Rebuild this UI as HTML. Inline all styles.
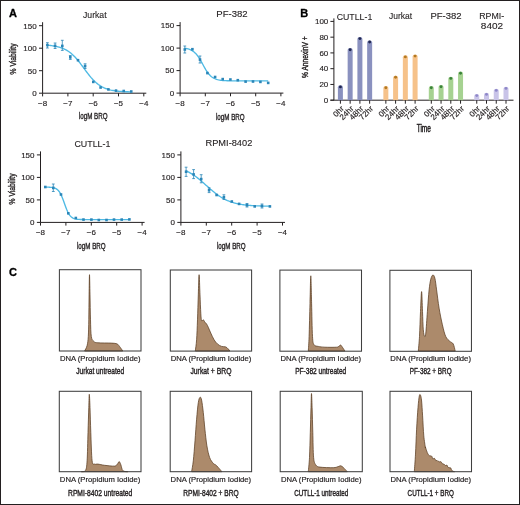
<!DOCTYPE html>
<html><head><meta charset="utf-8"><style>
html,body{margin:0;padding:0;background:#fff;width:520px;height:505px;overflow:hidden}
svg{display:block;font-family:"Liberation Sans", sans-serif;filter:blur(0.3px)}
</style></head><body>
<svg width="520" height="505" viewBox="0 0 520 505">
<rect width="520" height="505" fill="#fff"/>
<rect x="0.5" y="0.5" width="519" height="504" fill="none" stroke="#231f20" stroke-width="1"/>
<text x="9.00" y="16.80" font-size="11" text-anchor="start" font-weight="bold" fill="#000"  stroke="#000" stroke-width="0.3">A</text>
<text x="300.30" y="16.80" font-size="11" text-anchor="start" font-weight="bold" fill="#000"  stroke="#000" stroke-width="0.3">B</text>
<text x="9.00" y="276.00" font-size="11" text-anchor="start" font-weight="bold" fill="#000"  stroke="#000" stroke-width="0.3">C</text>
<path d="M42.60 22.20V93.20H146.30" fill="none" stroke="#231f20" stroke-width="1"/>
<path d="M39.00 93.20H42.60" stroke="#231f20" stroke-width="1"/>
<text x="36.60" y="96.00" font-size="8" text-anchor="end" font-weight="normal" fill="#231f20"  stroke="#231f20" stroke-width="0.15">0</text>
<path d="M39.00 70.70H42.60" stroke="#231f20" stroke-width="1"/>
<text x="36.60" y="73.50" font-size="8" text-anchor="end" font-weight="normal" fill="#231f20"  stroke="#231f20" stroke-width="0.15">50</text>
<path d="M39.00 48.20H42.60" stroke="#231f20" stroke-width="1"/>
<text x="36.60" y="51.00" font-size="8" text-anchor="end" font-weight="normal" fill="#231f20"  stroke="#231f20" stroke-width="0.15">100</text>
<path d="M39.00 25.70H42.60" stroke="#231f20" stroke-width="1"/>
<text x="36.60" y="28.50" font-size="8" text-anchor="end" font-weight="normal" fill="#231f20"  stroke="#231f20" stroke-width="0.15">150</text>
<path d="M42.60 93.20V96.40" stroke="#231f20" stroke-width="1"/>
<text x="42.60" y="106.20" font-size="8" text-anchor="middle" font-weight="normal" fill="#231f20"  stroke="#231f20" stroke-width="0.15">&#8722;8</text>
<path d="M67.90 93.20V96.40" stroke="#231f20" stroke-width="1"/>
<text x="67.90" y="106.20" font-size="8" text-anchor="middle" font-weight="normal" fill="#231f20"  stroke="#231f20" stroke-width="0.15">&#8722;7</text>
<path d="M93.20 93.20V96.40" stroke="#231f20" stroke-width="1"/>
<text x="93.20" y="106.20" font-size="8" text-anchor="middle" font-weight="normal" fill="#231f20"  stroke="#231f20" stroke-width="0.15">&#8722;6</text>
<path d="M118.50 93.20V96.40" stroke="#231f20" stroke-width="1"/>
<text x="118.50" y="106.20" font-size="8" text-anchor="middle" font-weight="normal" fill="#231f20"  stroke="#231f20" stroke-width="0.15">&#8722;5</text>
<path d="M143.80 93.20V96.40" stroke="#231f20" stroke-width="1"/>
<text x="143.80" y="106.20" font-size="8" text-anchor="middle" font-weight="normal" fill="#231f20"  stroke="#231f20" stroke-width="0.15">&#8722;4</text>
<text x="83.00" y="17.70" font-size="9.8" text-anchor="start" font-weight="normal" fill="#231f20" textLength="23.6" lengthAdjust="spacingAndGlyphs"  stroke="#231f20" stroke-width="0.12">Jurkat</text>
<text x="78.85" y="119.30" font-size="8.6" text-anchor="start" font-weight="normal" fill="#231f20" textLength="28.7" lengthAdjust="spacingAndGlyphs"  stroke="#231f20" stroke-width="0.35">logM BRQ</text>
<text transform="translate(15.50,58.90) rotate(-90)" x="0" y="0" font-size="8.2" stroke="#231f20" stroke-width="0.35" text-anchor="middle" fill="#231f20" textLength="31" lengthAdjust="spacingAndGlyphs">% Viability</text>
<path d="M47.40 45.22 L48.46 45.31 L49.52 45.41 L50.58 45.53 L51.65 45.65 L52.71 45.80 L53.77 45.96 L54.83 46.14 L55.89 46.34 L56.95 46.57 L58.01 46.82 L59.08 47.10 L60.14 47.42 L61.20 47.77 L62.26 48.16 L63.32 48.59 L64.38 49.07 L65.44 49.60 L66.51 50.18 L67.57 50.81 L68.63 51.51 L69.69 52.27 L70.75 53.09 L71.81 53.98 L72.87 54.94 L73.93 55.97 L75.00 57.06 L76.06 58.21 L77.12 59.43 L78.18 60.71 L79.24 62.03 L80.30 63.40 L81.36 64.80 L82.43 66.23 L83.49 67.68 L84.55 69.12 L85.61 70.57 L86.67 71.99 L87.73 73.39 L88.79 74.75 L89.86 76.07 L90.92 77.34 L91.98 78.55 L93.04 79.70 L94.10 80.78 L95.16 81.80 L96.22 82.75 L97.29 83.63 L98.35 84.44 L99.41 85.19 L100.47 85.88 L101.53 86.51 L102.59 87.08 L103.65 87.60 L104.72 88.07 L105.78 88.50 L106.84 88.88 L107.90 89.23 L108.96 89.54 L110.02 89.82 L111.08 90.07 L112.14 90.29 L113.21 90.49 L114.27 90.67 L115.33 90.83 L116.39 90.97 L117.45 91.10 L118.51 91.21 L119.57 91.31 L120.64 91.40 L121.70 91.47 L122.76 91.54 L123.82 91.61 L124.88 91.66 L125.94 91.71 L127.00 91.75 L128.07 91.79 L129.13 91.83 L130.19 91.86 L131.25 91.88" fill="none" stroke="#4fbae4" stroke-width="1.35"/>
<rect x="46.10" y="43.80" width="2.6" height="2.6" fill="#2b86b8"/>
<rect x="53.80" y="44.60" width="2.6" height="2.6" fill="#2b86b8"/>
<rect x="61.00" y="44.60" width="2.6" height="2.6" fill="#2b86b8"/>
<rect x="69.00" y="56.00" width="2.6" height="2.6" fill="#2b86b8"/>
<rect x="76.70" y="58.90" width="2.6" height="2.6" fill="#2b86b8"/>
<rect x="83.80" y="64.80" width="2.6" height="2.6" fill="#2b86b8"/>
<rect x="92.00" y="80.60" width="2.6" height="2.6" fill="#2b86b8"/>
<rect x="99.30" y="86.20" width="2.6" height="2.6" fill="#2b86b8"/>
<rect x="107.10" y="88.10" width="2.6" height="2.6" fill="#2b86b8"/>
<rect x="114.70" y="89.30" width="2.6" height="2.6" fill="#2b86b8"/>
<rect x="122.45" y="89.70" width="2.6" height="2.6" fill="#2b86b8"/>
<rect x="129.95" y="90.20" width="2.6" height="2.6" fill="#2b86b8"/>
<path d="M47.40 42.70V48.00M46.00 42.70H48.80M46.00 48.00H48.80" stroke="#2b86b8" stroke-width="0.8" fill="none"/>
<path d="M55.10 43.00V48.50M53.70 43.00H56.50M53.70 48.50H56.50" stroke="#2b86b8" stroke-width="0.8" fill="none"/>
<path d="M62.30 40.30V50.40M60.90 40.30H63.70M60.90 50.40H63.70" stroke="#2b86b8" stroke-width="0.8" fill="none"/>
<path d="M70.30 55.50V59.40M68.90 55.50H71.70M68.90 59.40H71.70" stroke="#2b86b8" stroke-width="0.8" fill="none"/>
<path d="M85.10 63.80V68.50M83.70 63.80H86.50M83.70 68.50H86.50" stroke="#2b86b8" stroke-width="0.8" fill="none"/>
<path d="M180.10 22.10V93.10H283.40" fill="none" stroke="#231f20" stroke-width="1"/>
<path d="M176.50 93.10H180.10" stroke="#231f20" stroke-width="1"/>
<text x="174.10" y="95.90" font-size="8" text-anchor="end" font-weight="normal" fill="#231f20"  stroke="#231f20" stroke-width="0.15">0</text>
<path d="M176.50 70.60H180.10" stroke="#231f20" stroke-width="1"/>
<text x="174.10" y="73.40" font-size="8" text-anchor="end" font-weight="normal" fill="#231f20"  stroke="#231f20" stroke-width="0.15">50</text>
<path d="M176.50 48.10H180.10" stroke="#231f20" stroke-width="1"/>
<text x="174.10" y="50.90" font-size="8" text-anchor="end" font-weight="normal" fill="#231f20"  stroke="#231f20" stroke-width="0.15">100</text>
<path d="M176.50 25.60H180.10" stroke="#231f20" stroke-width="1"/>
<text x="174.10" y="28.40" font-size="8" text-anchor="end" font-weight="normal" fill="#231f20"  stroke="#231f20" stroke-width="0.15">150</text>
<path d="M180.10 93.10V96.30" stroke="#231f20" stroke-width="1"/>
<text x="180.10" y="106.10" font-size="8" text-anchor="middle" font-weight="normal" fill="#231f20"  stroke="#231f20" stroke-width="0.15">&#8722;8</text>
<path d="M205.30 93.10V96.30" stroke="#231f20" stroke-width="1"/>
<text x="205.30" y="106.10" font-size="8" text-anchor="middle" font-weight="normal" fill="#231f20"  stroke="#231f20" stroke-width="0.15">&#8722;7</text>
<path d="M230.50 93.10V96.30" stroke="#231f20" stroke-width="1"/>
<text x="230.50" y="106.10" font-size="8" text-anchor="middle" font-weight="normal" fill="#231f20"  stroke="#231f20" stroke-width="0.15">&#8722;6</text>
<path d="M255.70 93.10V96.30" stroke="#231f20" stroke-width="1"/>
<text x="255.70" y="106.10" font-size="8" text-anchor="middle" font-weight="normal" fill="#231f20"  stroke="#231f20" stroke-width="0.15">&#8722;5</text>
<path d="M280.90 93.10V96.30" stroke="#231f20" stroke-width="1"/>
<text x="280.90" y="106.10" font-size="8" text-anchor="middle" font-weight="normal" fill="#231f20"  stroke="#231f20" stroke-width="0.15">&#8722;4</text>
<text x="216.30" y="17.30" font-size="9.8" text-anchor="start" font-weight="normal" fill="#231f20" textLength="31.4" lengthAdjust="spacingAndGlyphs"  stroke="#231f20" stroke-width="0.12">PF-382</text>
<text x="215.95" y="119.70" font-size="8.6" text-anchor="start" font-weight="normal" fill="#231f20" textLength="28.7" lengthAdjust="spacingAndGlyphs"  stroke="#231f20" stroke-width="0.35">logM BRQ</text>
<path d="M184.80 48.31 L185.86 48.47 L186.91 48.67 L187.97 48.92 L189.02 49.22 L190.08 49.60 L191.13 50.07 L192.19 50.64 L193.25 51.32 L194.30 52.15 L195.36 53.13 L196.41 54.27 L197.47 55.58 L198.52 57.07 L199.58 58.71 L200.64 60.49 L201.69 62.36 L202.75 64.28 L203.80 66.20 L204.86 68.08 L205.91 69.85 L206.97 71.50 L208.03 72.98 L209.08 74.30 L210.14 75.44 L211.19 76.42 L212.25 77.24 L213.30 77.93 L214.36 78.50 L215.42 78.97 L216.47 79.35 L217.53 79.65 L218.58 79.90 L219.64 80.10 L220.69 80.26 L221.75 80.38 L222.81 80.49 L223.86 80.57 L224.92 80.63 L225.97 80.68 L227.03 80.72 L228.08 80.76 L229.14 80.78 L230.19 80.80 L231.25 80.82 L232.31 80.83 L233.36 80.84 L234.42 80.85 L235.47 80.86 L236.53 80.86 L237.58 80.86 L238.64 80.87 L239.70 80.87 L240.75 80.87 L241.81 80.87 L242.86 80.88 L243.92 80.88 L244.97 80.88 L246.03 80.88 L247.09 80.88 L248.14 80.88 L249.20 80.88 L250.25 80.88 L251.31 80.88 L252.36 80.88 L253.42 80.88 L254.48 80.88 L255.53 80.88 L256.59 80.88 L257.64 80.88 L258.70 80.88 L259.75 80.88 L260.81 80.88 L261.87 80.88 L262.92 80.88 L263.98 80.88 L265.03 80.88 L266.09 80.88 L267.14 80.88 L268.20 80.88" fill="none" stroke="#4fbae4" stroke-width="1.35"/>
<rect x="183.50" y="48.20" width="2.6" height="2.6" fill="#2b86b8"/>
<rect x="191.10" y="47.90" width="2.6" height="2.6" fill="#2b86b8"/>
<rect x="198.70" y="58.30" width="2.6" height="2.6" fill="#2b86b8"/>
<rect x="206.10" y="71.80" width="2.6" height="2.6" fill="#2b86b8"/>
<rect x="213.80" y="75.70" width="2.6" height="2.6" fill="#2b86b8"/>
<rect x="221.40" y="77.80" width="2.6" height="2.6" fill="#2b86b8"/>
<rect x="229.10" y="78.20" width="2.6" height="2.6" fill="#2b86b8"/>
<rect x="236.50" y="78.90" width="2.6" height="2.6" fill="#2b86b8"/>
<rect x="244.30" y="80.30" width="2.6" height="2.6" fill="#2b86b8"/>
<rect x="251.70" y="80.20" width="2.6" height="2.6" fill="#2b86b8"/>
<rect x="259.10" y="80.60" width="2.6" height="2.6" fill="#2b86b8"/>
<rect x="266.90" y="81.60" width="2.6" height="2.6" fill="#2b86b8"/>
<path d="M184.80 46.00V53.00M183.40 46.00H186.20M183.40 53.00H186.20" stroke="#2b86b8" stroke-width="0.8" fill="none"/>
<path d="M200.00 56.00V63.00M198.60 56.00H201.40M198.60 63.00H201.40" stroke="#2b86b8" stroke-width="0.8" fill="none"/>
<path d="M40.50 151.40V222.40H144.60" fill="none" stroke="#231f20" stroke-width="1"/>
<path d="M36.90 222.40H40.50" stroke="#231f20" stroke-width="1"/>
<text x="34.50" y="225.20" font-size="8" text-anchor="end" font-weight="normal" fill="#231f20"  stroke="#231f20" stroke-width="0.15">0</text>
<path d="M36.90 199.90H40.50" stroke="#231f20" stroke-width="1"/>
<text x="34.50" y="202.70" font-size="8" text-anchor="end" font-weight="normal" fill="#231f20"  stroke="#231f20" stroke-width="0.15">50</text>
<path d="M36.90 177.40H40.50" stroke="#231f20" stroke-width="1"/>
<text x="34.50" y="180.20" font-size="8" text-anchor="end" font-weight="normal" fill="#231f20"  stroke="#231f20" stroke-width="0.15">100</text>
<path d="M36.90 154.90H40.50" stroke="#231f20" stroke-width="1"/>
<text x="34.50" y="157.70" font-size="8" text-anchor="end" font-weight="normal" fill="#231f20"  stroke="#231f20" stroke-width="0.15">150</text>
<path d="M40.50 222.40V225.60" stroke="#231f20" stroke-width="1"/>
<text x="40.50" y="235.40" font-size="8" text-anchor="middle" font-weight="normal" fill="#231f20"  stroke="#231f20" stroke-width="0.15">&#8722;8</text>
<path d="M65.90 222.40V225.60" stroke="#231f20" stroke-width="1"/>
<text x="65.90" y="235.40" font-size="8" text-anchor="middle" font-weight="normal" fill="#231f20"  stroke="#231f20" stroke-width="0.15">&#8722;7</text>
<path d="M91.30 222.40V225.60" stroke="#231f20" stroke-width="1"/>
<text x="91.30" y="235.40" font-size="8" text-anchor="middle" font-weight="normal" fill="#231f20"  stroke="#231f20" stroke-width="0.15">&#8722;6</text>
<path d="M116.70 222.40V225.60" stroke="#231f20" stroke-width="1"/>
<text x="116.70" y="235.40" font-size="8" text-anchor="middle" font-weight="normal" fill="#231f20"  stroke="#231f20" stroke-width="0.15">&#8722;5</text>
<path d="M142.10 222.40V225.60" stroke="#231f20" stroke-width="1"/>
<text x="142.10" y="235.40" font-size="8" text-anchor="middle" font-weight="normal" fill="#231f20"  stroke="#231f20" stroke-width="0.15">&#8722;4</text>
<text x="74.40" y="147.10" font-size="9.8" text-anchor="start" font-weight="normal" fill="#231f20" textLength="36" lengthAdjust="spacingAndGlyphs"  stroke="#231f20" stroke-width="0.12">CUTLL-1</text>
<text x="76.95" y="248.80" font-size="8.6" text-anchor="start" font-weight="normal" fill="#231f20" textLength="28.7" lengthAdjust="spacingAndGlyphs"  stroke="#231f20" stroke-width="0.35">logM BRQ</text>
<text transform="translate(14.50,188.90) rotate(-90)" x="0" y="0" font-size="8.2" stroke="#231f20" stroke-width="0.35" text-anchor="middle" fill="#231f20" textLength="31" lengthAdjust="spacingAndGlyphs">% Viability</text>
<path d="M45.30 187.11 L46.36 187.13 L47.43 187.15 L48.49 187.19 L49.56 187.24 L50.62 187.32 L51.69 187.44 L52.75 187.60 L53.82 187.83 L54.88 188.17 L55.95 188.65 L57.01 189.32 L58.07 190.24 L59.14 191.49 L60.20 193.13 L61.27 195.20 L62.33 197.70 L63.40 200.54 L64.46 203.56 L65.53 206.57 L66.59 209.36 L67.66 211.80 L68.72 213.80 L69.78 215.37 L70.85 216.57 L71.91 217.45 L72.98 218.08 L74.04 218.53 L75.11 218.85 L76.17 219.08 L77.24 219.23 L78.30 219.34 L79.37 219.41 L80.43 219.46 L81.49 219.50 L82.56 219.52 L83.62 219.54 L84.69 219.55 L85.75 219.56 L86.82 219.56 L87.88 219.57 L88.95 219.57 L90.01 219.57 L91.08 219.57 L92.14 219.57 L93.21 219.57 L94.27 219.57 L95.33 219.57 L96.40 219.57 L97.46 219.57 L98.53 219.57 L99.59 219.57 L100.66 219.57 L101.72 219.57 L102.79 219.57 L103.85 219.57 L104.92 219.57 L105.98 219.57 L107.04 219.57 L108.11 219.57 L109.17 219.57 L110.24 219.57 L111.30 219.57 L112.37 219.57 L113.43 219.57 L114.50 219.57 L115.56 219.57 L116.63 219.57 L117.69 219.57 L118.75 219.57 L119.82 219.57 L120.88 219.57 L121.95 219.57 L123.01 219.57 L124.08 219.57 L125.14 219.57 L126.21 219.57 L127.27 219.57 L128.34 219.57 L129.40 219.57" fill="none" stroke="#4fbae4" stroke-width="1.35"/>
<rect x="44.00" y="185.70" width="2.6" height="2.6" fill="#2b86b8"/>
<rect x="52.00" y="186.60" width="2.6" height="2.6" fill="#2b86b8"/>
<rect x="59.70" y="193.20" width="2.6" height="2.6" fill="#2b86b8"/>
<rect x="67.00" y="212.00" width="2.6" height="2.6" fill="#2b86b8"/>
<rect x="74.50" y="216.70" width="2.6" height="2.6" fill="#2b86b8"/>
<rect x="82.20" y="218.30" width="2.6" height="2.6" fill="#2b86b8"/>
<rect x="90.10" y="218.30" width="2.6" height="2.6" fill="#2b86b8"/>
<rect x="97.50" y="218.70" width="2.6" height="2.6" fill="#2b86b8"/>
<rect x="105.20" y="218.70" width="2.6" height="2.6" fill="#2b86b8"/>
<rect x="112.70" y="218.30" width="2.6" height="2.6" fill="#2b86b8"/>
<rect x="120.40" y="218.30" width="2.6" height="2.6" fill="#2b86b8"/>
<rect x="128.10" y="218.10" width="2.6" height="2.6" fill="#2b86b8"/>
<path d="M53.30 184.00V191.50M51.90 184.00H54.70M51.90 191.50H54.70" stroke="#2b86b8" stroke-width="0.8" fill="none"/>
<path d="M180.90 151.40V222.40H285.00" fill="none" stroke="#231f20" stroke-width="1"/>
<path d="M177.30 222.40H180.90" stroke="#231f20" stroke-width="1"/>
<text x="174.90" y="225.20" font-size="8" text-anchor="end" font-weight="normal" fill="#231f20"  stroke="#231f20" stroke-width="0.15">0</text>
<path d="M177.30 199.90H180.90" stroke="#231f20" stroke-width="1"/>
<text x="174.90" y="202.70" font-size="8" text-anchor="end" font-weight="normal" fill="#231f20"  stroke="#231f20" stroke-width="0.15">50</text>
<path d="M177.30 177.40H180.90" stroke="#231f20" stroke-width="1"/>
<text x="174.90" y="180.20" font-size="8" text-anchor="end" font-weight="normal" fill="#231f20"  stroke="#231f20" stroke-width="0.15">100</text>
<path d="M177.30 154.90H180.90" stroke="#231f20" stroke-width="1"/>
<text x="174.90" y="157.70" font-size="8" text-anchor="end" font-weight="normal" fill="#231f20"  stroke="#231f20" stroke-width="0.15">150</text>
<path d="M180.90 222.40V225.60" stroke="#231f20" stroke-width="1"/>
<text x="180.90" y="235.40" font-size="8" text-anchor="middle" font-weight="normal" fill="#231f20"  stroke="#231f20" stroke-width="0.15">&#8722;8</text>
<path d="M206.30 222.40V225.60" stroke="#231f20" stroke-width="1"/>
<text x="206.30" y="235.40" font-size="8" text-anchor="middle" font-weight="normal" fill="#231f20"  stroke="#231f20" stroke-width="0.15">&#8722;7</text>
<path d="M231.70 222.40V225.60" stroke="#231f20" stroke-width="1"/>
<text x="231.70" y="235.40" font-size="8" text-anchor="middle" font-weight="normal" fill="#231f20"  stroke="#231f20" stroke-width="0.15">&#8722;6</text>
<path d="M257.10 222.40V225.60" stroke="#231f20" stroke-width="1"/>
<text x="257.10" y="235.40" font-size="8" text-anchor="middle" font-weight="normal" fill="#231f20"  stroke="#231f20" stroke-width="0.15">&#8722;5</text>
<path d="M282.50 222.40V225.60" stroke="#231f20" stroke-width="1"/>
<text x="282.50" y="235.40" font-size="8" text-anchor="middle" font-weight="normal" fill="#231f20"  stroke="#231f20" stroke-width="0.15">&#8722;4</text>
<text x="205.50" y="146.40" font-size="9.8" text-anchor="start" font-weight="normal" fill="#231f20" textLength="46.8" lengthAdjust="spacingAndGlyphs"  stroke="#231f20" stroke-width="0.12">RPMI-8402</text>
<text x="216.95" y="248.90" font-size="8.6" text-anchor="start" font-weight="normal" fill="#231f20" textLength="28.7" lengthAdjust="spacingAndGlyphs"  stroke="#231f20" stroke-width="0.35">logM BRQ</text>
<path d="M186.10 170.86 L187.16 171.36 L188.22 171.89 L189.28 172.45 L190.34 173.05 L191.40 173.67 L192.46 174.34 L193.53 175.03 L194.59 175.76 L195.65 176.52 L196.71 177.30 L197.77 178.12 L198.83 178.97 L199.89 179.84 L200.95 180.73 L202.01 181.64 L203.07 182.56 L204.13 183.50 L205.19 184.45 L206.25 185.40 L207.32 186.35 L208.38 187.30 L209.44 188.24 L210.50 189.16 L211.56 190.08 L212.62 190.98 L213.68 191.85 L214.74 192.70 L215.80 193.53 L216.86 194.32 L217.92 195.09 L218.98 195.83 L220.04 196.53 L221.11 197.20 L222.17 197.84 L223.23 198.44 L224.29 199.01 L225.35 199.55 L226.41 200.05 L227.47 200.53 L228.53 200.97 L229.59 201.39 L230.65 201.78 L231.71 202.14 L232.77 202.47 L233.83 202.78 L234.89 203.07 L235.96 203.34 L237.02 203.59 L238.08 203.82 L239.14 204.03 L240.20 204.23 L241.26 204.40 L242.32 204.57 L243.38 204.72 L244.44 204.86 L245.50 204.99 L246.56 205.11 L247.62 205.22 L248.68 205.32 L249.75 205.41 L250.81 205.49 L251.87 205.57 L252.93 205.64 L253.99 205.70 L255.05 205.76 L256.11 205.82 L257.17 205.87 L258.23 205.91 L259.29 205.95 L260.35 205.99 L261.41 206.03 L262.47 206.06 L263.54 206.09 L264.60 206.11 L265.66 206.14 L266.72 206.16 L267.78 206.18 L268.84 206.20 L269.90 206.21" fill="none" stroke="#4fbae4" stroke-width="1.35"/>
<rect x="184.80" y="170.40" width="2.6" height="2.6" fill="#2b86b8"/>
<rect x="192.30" y="173.10" width="2.6" height="2.6" fill="#2b86b8"/>
<rect x="199.90" y="177.80" width="2.6" height="2.6" fill="#2b86b8"/>
<rect x="207.80" y="188.90" width="2.6" height="2.6" fill="#2b86b8"/>
<rect x="215.30" y="193.70" width="2.6" height="2.6" fill="#2b86b8"/>
<rect x="222.60" y="196.00" width="2.6" height="2.6" fill="#2b86b8"/>
<rect x="230.50" y="200.20" width="2.6" height="2.6" fill="#2b86b8"/>
<rect x="237.80" y="202.60" width="2.6" height="2.6" fill="#2b86b8"/>
<rect x="245.70" y="203.90" width="2.6" height="2.6" fill="#2b86b8"/>
<rect x="253.40" y="205.10" width="2.6" height="2.6" fill="#2b86b8"/>
<rect x="260.70" y="204.70" width="2.6" height="2.6" fill="#2b86b8"/>
<rect x="268.60" y="205.10" width="2.6" height="2.6" fill="#2b86b8"/>
<path d="M186.10 167.20V176.40M184.70 167.20H187.50M184.70 176.40H187.50" stroke="#2b86b8" stroke-width="0.8" fill="none"/>
<path d="M193.60 169.60V178.60M192.20 169.60H195.00M192.20 178.60H195.00" stroke="#2b86b8" stroke-width="0.8" fill="none"/>
<path d="M201.20 174.70V182.80M199.80 174.70H202.60M199.80 182.80H202.60" stroke="#2b86b8" stroke-width="0.8" fill="none"/>
<path d="M209.10 187.80V192.60M207.70 187.80H210.50M207.70 192.60H210.50" stroke="#2b86b8" stroke-width="0.8" fill="none"/>
<path d="M223.90 194.80V199.50M222.50 194.80H225.30M222.50 199.50H225.30" stroke="#2b86b8" stroke-width="0.8" fill="none"/>
<path d="M247.00 203.50V207.00M245.60 203.50H248.40M245.60 207.00H248.40" stroke="#2b86b8" stroke-width="0.8" fill="none"/>
<path d="M262.00 204.00V208.00M260.60 204.00H263.40M260.60 208.00H263.40" stroke="#2b86b8" stroke-width="0.8" fill="none"/>
<path d="M333.90 18.40V100.20" fill="none" stroke="#231f20" stroke-width="1"/>
<path d="M330.40 100.20H513.5" fill="none" stroke="#231f20" stroke-width="1"/>
<path d="M330.40 100.20H333.90" stroke="#231f20" stroke-width="1"/>
<text x="328.30" y="103.00" font-size="8" text-anchor="end" font-weight="normal" fill="#231f20"  stroke="#231f20" stroke-width="0.15">0</text>
<path d="M330.40 84.44H333.90" stroke="#231f20" stroke-width="1"/>
<text x="328.30" y="87.24" font-size="8" text-anchor="end" font-weight="normal" fill="#231f20"  stroke="#231f20" stroke-width="0.15">20</text>
<path d="M330.40 68.68H333.90" stroke="#231f20" stroke-width="1"/>
<text x="328.30" y="71.48" font-size="8" text-anchor="end" font-weight="normal" fill="#231f20"  stroke="#231f20" stroke-width="0.15">40</text>
<path d="M330.40 52.92H333.90" stroke="#231f20" stroke-width="1"/>
<text x="328.30" y="55.72" font-size="8" text-anchor="end" font-weight="normal" fill="#231f20"  stroke="#231f20" stroke-width="0.15">60</text>
<path d="M330.40 37.16H333.90" stroke="#231f20" stroke-width="1"/>
<text x="328.30" y="39.96" font-size="8" text-anchor="end" font-weight="normal" fill="#231f20"  stroke="#231f20" stroke-width="0.15">80</text>
<path d="M330.40 21.40H333.90" stroke="#231f20" stroke-width="1"/>
<text x="328.30" y="24.20" font-size="8" text-anchor="end" font-weight="normal" fill="#231f20"  stroke="#231f20" stroke-width="0.15">100</text>
<text transform="translate(308.3,57.2) rotate(-90)" font-size="8.3" stroke="#231f20" stroke-width="0.4" text-anchor="middle" fill="#231f20" textLength="41.5" lengthAdjust="spacingAndGlyphs">% AnnexinV +</text>
<path d="M337.90 100.20V87.30Q337.90 85.30 340.40 85.30Q342.90 85.30 342.90 87.30V100.20Z" fill="#8a91bf"/>
<circle cx="340.40" cy="86.90" r="1.45" fill="#1e2550"/>
<path d="M340.40 100.20V103.70" stroke="#231f20" stroke-width="1"/>
<text transform="translate(344.40,109.20) rotate(-45)" font-size="8" text-anchor="end" fill="#231f20" stroke="#231f20" stroke-width="0.15">0hr</text>
<path d="M347.65 100.20V50.10Q347.65 48.10 350.15 48.10Q352.65 48.10 352.65 50.10V100.20Z" fill="#8a91bf"/>
<circle cx="350.15" cy="49.70" r="1.45" fill="#1e2550"/>
<path d="M350.15 100.20V103.70" stroke="#231f20" stroke-width="1"/>
<text transform="translate(354.15,109.20) rotate(-45)" font-size="8" text-anchor="end" fill="#231f20" stroke="#231f20" stroke-width="0.15">24hr</text>
<path d="M357.40 100.20V39.00Q357.40 37.00 359.90 37.00Q362.40 37.00 362.40 39.00V100.20Z" fill="#8a91bf"/>
<circle cx="359.90" cy="38.60" r="1.45" fill="#1e2550"/>
<path d="M359.90 100.20V103.70" stroke="#231f20" stroke-width="1"/>
<text transform="translate(363.90,109.20) rotate(-45)" font-size="8" text-anchor="end" fill="#231f20" stroke="#231f20" stroke-width="0.15">48hr</text>
<path d="M367.15 100.20V42.40Q367.15 40.40 369.65 40.40Q372.15 40.40 372.15 42.40V100.20Z" fill="#8a91bf"/>
<circle cx="369.65" cy="42.00" r="1.45" fill="#1e2550"/>
<path d="M369.65 100.20V103.70" stroke="#231f20" stroke-width="1"/>
<text transform="translate(373.65,109.20) rotate(-45)" font-size="8" text-anchor="end" fill="#231f20" stroke="#231f20" stroke-width="0.15">72hr</text>
<path d="M383.35 100.20V88.10Q383.35 86.10 385.85 86.10Q388.35 86.10 388.35 88.10V100.20Z" fill="#f6c28a"/>
<circle cx="385.85" cy="87.70" r="1.45" fill="#b37a22"/>
<path d="M385.85 100.20V103.70" stroke="#231f20" stroke-width="1"/>
<text transform="translate(389.85,109.20) rotate(-45)" font-size="8" text-anchor="end" fill="#231f20" stroke="#231f20" stroke-width="0.15">0hr</text>
<path d="M393.10 100.20V77.70Q393.10 75.70 395.60 75.70Q398.10 75.70 398.10 77.70V100.20Z" fill="#f6c28a"/>
<circle cx="395.60" cy="77.30" r="1.45" fill="#b37a22"/>
<path d="M395.60 100.20V103.70" stroke="#231f20" stroke-width="1"/>
<text transform="translate(399.60,109.20) rotate(-45)" font-size="8" text-anchor="end" fill="#231f20" stroke="#231f20" stroke-width="0.15">24hr</text>
<path d="M402.85 100.20V57.30Q402.85 55.30 405.35 55.30Q407.85 55.30 407.85 57.30V100.20Z" fill="#f6c28a"/>
<circle cx="405.35" cy="56.90" r="1.45" fill="#b37a22"/>
<path d="M405.35 100.20V103.70" stroke="#231f20" stroke-width="1"/>
<text transform="translate(409.35,109.20) rotate(-45)" font-size="8" text-anchor="end" fill="#231f20" stroke="#231f20" stroke-width="0.15">48hr</text>
<path d="M412.60 100.20V56.50Q412.60 54.50 415.10 54.50Q417.60 54.50 417.60 56.50V100.20Z" fill="#f6c28a"/>
<circle cx="415.10" cy="56.10" r="1.45" fill="#b37a22"/>
<path d="M415.10 100.20V103.70" stroke="#231f20" stroke-width="1"/>
<text transform="translate(419.10,109.20) rotate(-45)" font-size="8" text-anchor="end" fill="#231f20" stroke="#231f20" stroke-width="0.15">72hr</text>
<path d="M428.80 100.20V88.10Q428.80 86.10 431.30 86.10Q433.80 86.10 433.80 88.10V100.20Z" fill="#a6d291"/>
<circle cx="431.30" cy="87.70" r="1.45" fill="#3a823a"/>
<path d="M431.30 100.20V103.70" stroke="#231f20" stroke-width="1"/>
<text transform="translate(435.30,109.20) rotate(-45)" font-size="8" text-anchor="end" fill="#231f20" stroke="#231f20" stroke-width="0.15">0hr</text>
<path d="M438.55 100.20V87.10Q438.55 85.10 441.05 85.10Q443.55 85.10 443.55 87.10V100.20Z" fill="#a6d291"/>
<circle cx="441.05" cy="86.70" r="1.45" fill="#3a823a"/>
<path d="M441.05 100.20V103.70" stroke="#231f20" stroke-width="1"/>
<text transform="translate(445.05,109.20) rotate(-45)" font-size="8" text-anchor="end" fill="#231f20" stroke="#231f20" stroke-width="0.15">24hr</text>
<path d="M448.30 100.20V78.80Q448.30 76.80 450.80 76.80Q453.30 76.80 453.30 78.80V100.20Z" fill="#a6d291"/>
<circle cx="450.80" cy="78.40" r="1.45" fill="#3a823a"/>
<path d="M450.80 100.20V103.70" stroke="#231f20" stroke-width="1"/>
<text transform="translate(454.80,109.20) rotate(-45)" font-size="8" text-anchor="end" fill="#231f20" stroke="#231f20" stroke-width="0.15">48hr</text>
<path d="M458.05 100.20V73.60Q458.05 71.60 460.55 71.60Q463.05 71.60 463.05 73.60V100.20Z" fill="#a6d291"/>
<circle cx="460.55" cy="73.20" r="1.45" fill="#3a823a"/>
<path d="M460.55 100.20V103.70" stroke="#231f20" stroke-width="1"/>
<text transform="translate(464.55,109.20) rotate(-45)" font-size="8" text-anchor="end" fill="#231f20" stroke="#231f20" stroke-width="0.15">72hr</text>
<path d="M474.25 100.20V96.00Q474.25 94.00 476.75 94.00Q479.25 94.00 479.25 96.00V100.20Z" fill="#c9c4e8"/>
<circle cx="476.75" cy="95.60" r="1.45" fill="#8e87c8"/>
<path d="M476.75 100.20V103.70" stroke="#231f20" stroke-width="1"/>
<text transform="translate(480.75,109.20) rotate(-45)" font-size="8" text-anchor="end" fill="#231f20" stroke="#231f20" stroke-width="0.15">0hr</text>
<path d="M484.00 100.20V94.80Q484.00 92.80 486.50 92.80Q489.00 92.80 489.00 94.80V100.20Z" fill="#c9c4e8"/>
<circle cx="486.50" cy="94.40" r="1.45" fill="#8e87c8"/>
<path d="M486.50 100.20V103.70" stroke="#231f20" stroke-width="1"/>
<text transform="translate(490.50,109.20) rotate(-45)" font-size="8" text-anchor="end" fill="#231f20" stroke="#231f20" stroke-width="0.15">24hr</text>
<path d="M493.75 100.20V90.80Q493.75 88.80 496.25 88.80Q498.75 88.80 498.75 90.80V100.20Z" fill="#c9c4e8"/>
<circle cx="496.25" cy="90.40" r="1.45" fill="#8e87c8"/>
<path d="M496.25 100.20V103.70" stroke="#231f20" stroke-width="1"/>
<text transform="translate(500.25,109.20) rotate(-45)" font-size="8" text-anchor="end" fill="#231f20" stroke="#231f20" stroke-width="0.15">48hr</text>
<path d="M503.50 100.20V88.80Q503.50 86.80 506.00 86.80Q508.50 86.80 508.50 88.80V100.20Z" fill="#c9c4e8"/>
<circle cx="506.00" cy="88.40" r="1.45" fill="#8e87c8"/>
<path d="M506.00 100.20V103.70" stroke="#231f20" stroke-width="1"/>
<text transform="translate(510.00,109.20) rotate(-45)" font-size="8" text-anchor="end" fill="#231f20" stroke="#231f20" stroke-width="0.15">72hr</text>
<text x="354.50" y="19.50" font-size="9.8" text-anchor="middle" font-weight="normal" fill="#231f20" textLength="35.6" lengthAdjust="spacingAndGlyphs"  stroke="#231f20" stroke-width="0.12">CUTLL-1</text>
<text x="400.60" y="19.40" font-size="9.8" text-anchor="middle" font-weight="normal" fill="#231f20" textLength="23.1" lengthAdjust="spacingAndGlyphs"  stroke="#231f20" stroke-width="0.12">Jurkat</text>
<text x="446.00" y="19.10" font-size="9.8" text-anchor="middle" font-weight="normal" fill="#231f20" textLength="31.2" lengthAdjust="spacingAndGlyphs"  stroke="#231f20" stroke-width="0.12">PF-382</text>
<text x="491.70" y="19.10" font-size="9.8" text-anchor="middle" font-weight="normal" fill="#231f20" textLength="24.9" lengthAdjust="spacingAndGlyphs"  stroke="#231f20" stroke-width="0.12">RPMI-</text>
<text x="492.00" y="29.00" font-size="9.8" text-anchor="middle" font-weight="normal" fill="#231f20" textLength="22.3" lengthAdjust="spacingAndGlyphs"  stroke="#231f20" stroke-width="0.12">8402</text>
<text x="416.70" y="132.30" font-size="10" text-anchor="start" font-weight="normal" fill="#231f20" textLength="14.2" lengthAdjust="spacingAndGlyphs"  stroke="#231f20" stroke-width="0.5">Time</text>
<path d="M84.60 351.00 C85.02 350.10 86.48 348.03 87.10 345.60 C87.72 343.17 88.02 340.70 88.30 336.40 C88.58 332.10 88.67 326.72 88.80 319.80 C88.93 312.88 88.98 302.42 89.10 294.90 C89.22 287.38 89.35 274.70 89.50 274.70 C89.65 274.70 89.83 287.38 90.00 294.90 C90.17 302.42 90.28 312.88 90.50 319.80 C90.72 326.72 90.75 332.80 91.30 336.40 C91.85 340.00 92.70 340.33 93.80 341.40 C94.90 342.47 95.00 342.52 97.90 342.80 C100.80 343.08 108.02 342.92 111.20 343.10 C114.38 343.28 115.62 343.35 117.00 343.90 C118.38 344.45 118.53 345.22 119.50 346.40 C120.47 347.58 122.25 350.23 122.80 351.00Z" fill="#ac8a6b" stroke="#5a3c22" stroke-width="0.75" stroke-linejoin="round"/>
<rect x="59.40" y="269.70" width="81.60" height="81.30" fill="none" stroke="#404040" stroke-width="1.05"/>
<text x="59.90" y="360.90" font-size="7.5" text-anchor="start" font-weight="normal" fill="#231f20" textLength="80.6" lengthAdjust="spacingAndGlyphs"  stroke="#231f20" stroke-width="0.18">DNA (Propidium Iodide)</text>
<text x="76.20" y="373.70" font-size="9.0" text-anchor="start" font-weight="normal" fill="#231f20" textLength="48" lengthAdjust="spacingAndGlyphs"  stroke="#231f20" stroke-width="0.4">Jurkat untreated</text>
<path d="M195.30 351.00 C195.52 349.13 196.23 345.00 196.60 339.80 C196.97 334.60 197.22 327.28 197.50 319.80 C197.78 312.32 198.03 302.42 198.30 294.90 C198.57 287.38 198.82 274.70 199.10 274.70 C199.38 274.70 199.72 288.48 200.00 294.90 C200.28 301.32 200.53 308.90 200.80 313.20 C201.07 317.50 201.18 319.60 201.60 320.70 C202.02 321.80 202.73 319.53 203.30 319.80 C203.87 320.07 204.45 321.60 205.00 322.30 C205.55 323.00 206.05 323.17 206.60 324.00 C207.15 324.83 207.60 325.78 208.30 327.30 C209.00 328.82 209.83 331.02 210.80 333.10 C211.77 335.18 213.00 338.00 214.10 339.80 C215.20 341.60 216.15 342.80 217.40 343.90 C218.65 345.00 220.22 345.90 221.60 346.40 C222.98 346.90 224.60 346.48 225.70 346.90 C226.80 347.32 227.50 348.22 228.20 348.90 C228.90 349.58 229.62 350.65 229.90 351.00Z" fill="#ac8a6b" stroke="#5a3c22" stroke-width="0.75" stroke-linejoin="round"/>
<rect x="170.30" y="270.00" width="81.30" height="81.10" fill="none" stroke="#404040" stroke-width="1.05"/>
<text x="170.65" y="361.00" font-size="7.5" text-anchor="start" font-weight="normal" fill="#231f20" textLength="80.6" lengthAdjust="spacingAndGlyphs"  stroke="#231f20" stroke-width="0.18">DNA (Propidium Iodide)</text>
<text x="190.45" y="373.80" font-size="9.0" text-anchor="start" font-weight="normal" fill="#231f20" textLength="41" lengthAdjust="spacingAndGlyphs"  stroke="#231f20" stroke-width="0.4">Jurkat + BRQ</text>
<path d="M308.30 351.00 C308.43 348.57 308.82 344.37 309.10 336.40 C309.38 328.43 309.72 313.30 310.00 303.20 C310.28 293.10 310.53 275.80 310.80 275.80 C311.07 275.80 311.32 293.10 311.60 303.20 C311.88 313.30 312.08 329.47 312.50 336.40 C312.92 343.33 313.13 343.13 314.10 344.80 C315.07 346.47 316.50 346.00 318.30 346.40 C320.10 346.80 321.87 347.07 324.90 347.20 C327.93 347.33 334.15 347.38 336.50 347.20 C338.85 347.02 338.30 346.45 339.00 346.10 C339.70 345.75 340.13 344.92 340.70 345.10 C341.27 345.28 341.70 346.22 342.40 347.20 C343.10 348.18 344.48 350.37 344.90 351.00Z" fill="#ac8a6b" stroke="#5a3c22" stroke-width="0.75" stroke-linejoin="round"/>
<rect x="279.90" y="270.10" width="81.60" height="81.10" fill="none" stroke="#404040" stroke-width="1.05"/>
<text x="280.40" y="361.10" font-size="7.5" text-anchor="start" font-weight="normal" fill="#231f20" textLength="80.6" lengthAdjust="spacingAndGlyphs"  stroke="#231f20" stroke-width="0.18">DNA (Propidium Iodide)</text>
<text x="295.20" y="373.90" font-size="9.0" text-anchor="start" font-weight="normal" fill="#231f20" textLength="51" lengthAdjust="spacingAndGlyphs"  stroke="#231f20" stroke-width="0.4">PF-382 untreated</text>
<path d="M418.30 351.00 C418.50 348.57 419.13 342.98 419.50 336.40 C419.87 329.82 420.15 318.97 420.50 311.50 C420.85 304.03 421.27 291.60 421.60 291.60 C421.93 291.60 422.22 305.13 422.50 311.50 C422.78 317.87 422.95 325.65 423.30 329.80 C423.65 333.95 424.18 335.85 424.60 336.40 C425.02 336.95 425.33 337.25 425.80 333.10 C426.27 328.95 426.85 318.70 427.40 311.50 C427.95 304.30 428.53 295.30 429.10 289.90 C429.67 284.50 430.17 281.58 430.80 279.10 C431.43 276.62 432.22 275.13 432.90 275.00 C433.58 274.87 434.28 275.82 434.90 278.30 C435.52 280.78 435.90 284.92 436.60 289.90 C437.30 294.88 438.13 302.38 439.10 308.20 C440.07 314.02 441.30 320.10 442.40 324.80 C443.50 329.50 444.45 333.63 445.70 336.40 C446.95 339.17 448.65 340.15 449.90 341.40 C451.15 342.65 452.32 342.30 453.20 343.90 C454.08 345.50 454.87 349.82 455.20 351.00Z" fill="#ac8a6b" stroke="#5a3c22" stroke-width="0.75" stroke-linejoin="round"/>
<rect x="389.90" y="270.30" width="81.55" height="81.00" fill="none" stroke="#404040" stroke-width="1.05"/>
<text x="390.37" y="361.20" font-size="7.5" text-anchor="start" font-weight="normal" fill="#231f20" textLength="80.6" lengthAdjust="spacingAndGlyphs"  stroke="#231f20" stroke-width="0.18">DNA (Propidium Iodide)</text>
<text x="409.67" y="374.00" font-size="9.0" text-anchor="start" font-weight="normal" fill="#231f20" textLength="42" lengthAdjust="spacingAndGlyphs"  stroke="#231f20" stroke-width="0.4">PF-382 + BRQ</text>
<path d="M81.30 471.70 C82.00 471.48 84.53 472.22 85.50 470.40 C86.47 468.58 86.68 467.12 87.10 460.80 C87.52 454.48 87.72 441.37 88.00 432.50 C88.28 423.63 88.58 413.97 88.80 407.60 C89.02 401.23 89.10 394.30 89.30 394.30 C89.50 394.30 89.75 401.23 90.00 407.60 C90.25 413.97 90.45 423.63 90.80 432.50 C91.15 441.37 91.47 455.53 92.10 460.80 C92.73 466.07 93.63 463.55 94.60 464.10 C95.57 464.65 96.23 463.90 97.90 464.10 C99.57 464.30 101.83 464.97 104.60 465.30 C107.37 465.63 112.37 466.30 114.50 466.10 C116.63 465.90 116.62 464.85 117.40 464.10 C118.18 463.35 118.62 461.47 119.20 461.60 C119.78 461.73 120.28 463.38 120.90 464.90 C121.52 466.42 121.75 469.57 122.90 470.70 C124.05 471.83 126.98 471.53 127.80 471.70Z" fill="#ac8a6b" stroke="#5a3c22" stroke-width="0.75" stroke-linejoin="round"/>
<rect x="59.30" y="391.30" width="81.70" height="80.40" fill="none" stroke="#404040" stroke-width="1.05"/>
<text x="59.85" y="482.00" font-size="7.5" text-anchor="start" font-weight="normal" fill="#231f20" textLength="80.6" lengthAdjust="spacingAndGlyphs"  stroke="#231f20" stroke-width="0.18">DNA (Propidium Iodide)</text>
<text x="68.05" y="496.20" font-size="9.0" text-anchor="start" font-weight="normal" fill="#231f20" textLength="64.2" lengthAdjust="spacingAndGlyphs"  stroke="#231f20" stroke-width="0.4">RPMI-8402 untreated</text>
<path d="M191.60 471.70 C191.88 469.88 192.73 465.95 193.30 460.80 C193.87 455.65 194.45 447.73 195.00 440.80 C195.55 433.87 196.05 425.57 196.60 419.20 C197.15 412.83 197.73 406.25 198.30 402.60 C198.87 398.95 199.45 397.72 200.00 397.30 C200.55 396.88 201.05 397.55 201.60 400.10 C202.15 402.65 202.75 407.75 203.30 412.60 C203.85 417.45 204.30 423.67 204.90 429.20 C205.50 434.73 206.12 441.10 206.90 445.80 C207.68 450.50 208.55 454.48 209.60 457.40 C210.65 460.32 212.18 462.05 213.20 463.30 C214.22 464.55 214.87 464.22 215.70 464.90 C216.53 465.58 217.17 466.27 218.20 467.40 C219.23 468.53 221.28 470.98 221.90 471.70Z" fill="#ac8a6b" stroke="#5a3c22" stroke-width="0.75" stroke-linejoin="round"/>
<rect x="170.20" y="391.30" width="81.40" height="80.40" fill="none" stroke="#404040" stroke-width="1.05"/>
<text x="170.60" y="482.00" font-size="7.5" text-anchor="start" font-weight="normal" fill="#231f20" textLength="80.6" lengthAdjust="spacingAndGlyphs"  stroke="#231f20" stroke-width="0.18">DNA (Propidium Iodide)</text>
<text x="183.20" y="496.20" font-size="9.0" text-anchor="start" font-weight="normal" fill="#231f20" textLength="55.4" lengthAdjust="spacingAndGlyphs"  stroke="#231f20" stroke-width="0.4">RPMI-8402 + BRQ</text>
<path d="M308.30 471.70 C308.50 469.32 309.17 463.93 309.50 457.40 C309.83 450.87 310.05 440.80 310.30 432.50 C310.55 424.20 310.80 414.10 311.00 407.60 C311.20 401.10 311.32 393.50 311.50 393.50 C311.68 393.50 311.88 401.10 312.10 407.60 C312.32 414.10 312.55 424.20 312.80 432.50 C313.05 440.80 313.10 452.00 313.60 457.40 C314.10 462.80 314.75 463.28 315.80 464.90 C316.85 466.52 317.00 466.63 319.90 467.10 C322.80 467.57 330.15 467.78 333.20 467.70 C336.25 467.62 336.95 466.92 338.20 466.60 C339.45 466.28 339.87 465.67 340.70 465.80 C341.53 465.93 342.10 466.42 343.20 467.40 C344.30 468.38 346.62 470.98 347.30 471.70Z" fill="#ac8a6b" stroke="#5a3c22" stroke-width="0.75" stroke-linejoin="round"/>
<rect x="280.20" y="391.30" width="82.10" height="80.40" fill="none" stroke="#404040" stroke-width="1.05"/>
<text x="280.95" y="482.00" font-size="7.5" text-anchor="start" font-weight="normal" fill="#231f20" textLength="80.6" lengthAdjust="spacingAndGlyphs"  stroke="#231f20" stroke-width="0.18">DNA (Propidium Iodide)</text>
<text x="294.25" y="496.20" font-size="9.0" text-anchor="start" font-weight="normal" fill="#231f20" textLength="54" lengthAdjust="spacingAndGlyphs"  stroke="#231f20" stroke-width="0.4">CUTLL-1 untreated</text>
<path d="M414.30 471.70 C414.50 468.77 415.12 461.18 415.50 454.10 C415.88 447.02 416.18 436.95 416.60 429.20 C417.02 421.45 417.55 413.13 418.00 407.60 C418.45 402.07 418.88 398.07 419.30 396.00 C419.72 393.93 420.12 394.37 420.50 395.20 C420.88 396.03 421.25 397.55 421.60 401.00 C421.95 404.45 422.23 410.08 422.60 415.90 C422.97 421.72 423.33 430.63 423.80 435.90 C424.27 441.17 425.13 445.65 425.40 447.50 C425.67 449.35 425.19 446.41 425.40 446.98 C425.61 447.54 426.23 449.74 426.65 450.89 C427.07 452.03 427.52 453.13 427.90 453.84 C428.27 454.55 428.57 454.78 428.90 455.15 C429.23 455.51 429.57 455.93 429.90 456.03 C430.23 456.13 430.57 455.68 430.90 455.75 C431.23 455.83 431.57 455.95 431.90 456.49 C432.23 457.02 432.57 458.67 432.90 458.97 C433.23 459.28 433.57 458.35 433.90 458.32 C434.23 458.28 434.57 458.36 434.90 458.77 C435.23 459.18 435.57 460.55 435.90 460.79 C436.23 461.04 436.57 460.13 436.90 460.24 C437.23 460.35 437.57 461.30 437.90 461.47 C438.23 461.64 438.57 461.15 438.90 461.25 C439.23 461.35 439.57 462.02 439.90 462.08 C440.23 462.14 440.57 461.44 440.90 461.60 C441.23 461.77 441.57 462.66 441.90 463.07 C442.23 463.48 442.57 463.88 442.90 464.04 C443.23 464.19 443.57 463.83 443.90 464.01 C444.23 464.18 444.57 464.83 444.90 465.10 C445.23 465.37 445.57 465.63 445.90 465.62 C446.23 465.62 446.57 464.82 446.90 465.07 C447.23 465.32 447.57 466.69 447.90 467.12 C448.23 467.54 448.57 467.48 448.90 467.60 C449.23 467.72 449.57 467.76 449.90 467.84 C450.23 467.93 450.57 467.66 450.90 468.12 C451.23 468.58 451.30 470.01 451.90 470.61 C452.50 471.21 454.07 471.52 454.50 471.70Z" fill="#ac8a6b" stroke="#5a3c22" stroke-width="0.75" stroke-linejoin="round"/>
<rect x="390.00" y="391.30" width="81.50" height="80.40" fill="none" stroke="#404040" stroke-width="1.05"/>
<text x="390.45" y="482.00" font-size="7.5" text-anchor="start" font-weight="normal" fill="#231f20" textLength="80.6" lengthAdjust="spacingAndGlyphs"  stroke="#231f20" stroke-width="0.18">DNA (Propidium Iodide)</text>
<text x="407.60" y="496.20" font-size="9.0" text-anchor="start" font-weight="normal" fill="#231f20" textLength="46.3" lengthAdjust="spacingAndGlyphs"  stroke="#231f20" stroke-width="0.4">CUTLL-1 + BRQ</text>
</svg></body></html>
